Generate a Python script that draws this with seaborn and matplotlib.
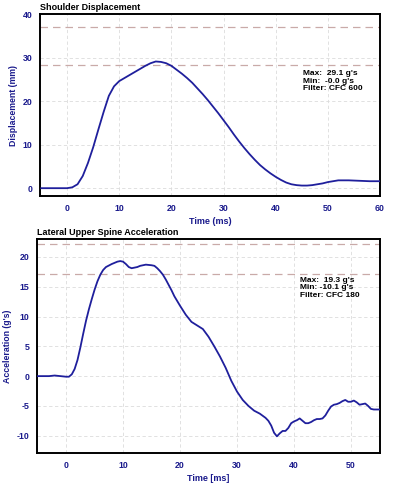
import seaborn as sns
import matplotlib.pyplot as plt
import pandas as pd
from matplotlib.ticker import MultipleLocator

# Shoulder displacement (mm) vs time (ms)
disp_time = [-5, -2, 0, 1, 2, 3, 4, 5, 6, 7, 8, 9, 10, 11, 12, 13, 14, 15, 16, 17, 18, 19,
             20, 21, 22, 23, 24, 25, 26, 27, 28, 29, 30, 31, 32, 33, 34, 35, 36, 37, 38, 39,
             40, 41, 42, 43, 44, 45, 46, 47, 48, 49, 50, 51, 52, 54, 56, 58, 60]
disp_vals = [0, 0, 0, 0.2, 0.9, 2.8, 5.8, 9.4, 13.5, 17.5, 21.2, 23.4, 24.6, 25.3, 26.0, 26.7,
             27.4, 28.1, 28.7, 29.1, 29.0, 28.7, 28.1, 27.2, 26.3, 25.3, 24.2, 22.9, 21.6, 20.2,
             18.7, 17.2, 15.6, 14.0, 12.3, 10.7, 9.2, 7.8, 6.5, 5.3, 4.3, 3.4, 2.6, 1.9, 1.3,
             0.9, 0.7, 0.6, 0.6, 0.7, 0.9, 1.1, 1.4, 1.6, 1.8, 1.8, 1.7, 1.6, 1.6]
disp_refs = [28.3, 37.0]
disp_note = "Max:  29.1 g's\nMin:  -0.0 g's\nFilter: CFC 600"

# Lateral upper spine acceleration (g's) vs time (ms)
acc_time = [-5, -3, -2, -1, 0, 0.5, 1, 1.5, 2, 2.5, 3, 3.5, 4, 4.5, 5, 5.5, 6, 6.5, 7, 8, 9,
            9.5, 10, 10.5, 11, 11.5, 12, 12.5, 13, 14, 15, 15.5, 16, 16.5, 17, 17.5, 18, 18.5,
            19, 20, 21, 22, 23, 24, 25, 26, 27, 28, 29, 30, 31, 32, 33, 34, 35, 35.5, 36, 36.5,
            37, 37.5, 38, 38.5, 39, 39.5, 40, 40.5, 41, 41.5, 42, 42.5, 43, 43.5, 44, 44.5, 45,
            45.5, 46, 46.5, 47, 47.5, 48, 48.5, 49, 49.5, 50, 50.5, 51, 51.5, 52, 52.5, 53,
            53.5, 54, 54.5, 55]
acc_vals = [0, 0, 0.1, 0, -0.1, -0.1, 0.3, 1.2, 2.7, 4.8, 7.1, 9.3, 11.2, 12.9, 14.5, 15.9, 17.0,
            17.8, 18.3, 18.8, 19.2, 19.3, 19.2, 18.8, 18.3, 18.1, 18.2, 18.3, 18.5, 18.7, 18.6,
            18.5, 18.1, 17.6, 17.0, 16.2, 15.3, 14.4, 13.4, 11.8, 10.3, 9.1, 8.5, 7.9, 6.6, 5.0,
            3.3, 1.4, -0.8, -2.6, -4.0, -5.0, -5.8, -6.3, -7.0, -7.5, -8.3, -9.5, -10.1, -9.6,
            -9.2, -9.2, -8.7, -7.9, -7.6, -7.4, -7.1, -7.5, -7.9, -7.9, -7.7, -7.4, -7.2, -7.2,
            -7.1, -6.6, -5.8, -5.1, -4.8, -4.7, -4.5, -4.2, -4.0, -4.3, -4.3, -4.1, -4.4, -4.8,
            -4.7, -4.6, -5.0, -5.5, -5.6, -5.6, -5.6]
acc_refs = [17.1, 22.2]
acc_note = "Max:  19.3 g's\nMin: -10.1 g's\nFilter: CFC 180"

sns.set_style("white")
plt.rcParams['font.family'] = ['Liberation Sans', 'DejaVu Sans']
plt.rcParams['axes.unicode_minus'] = False

navy = "#1f1f9c"
label_blue = "#1a1a8c"

fig = plt.figure(figsize=(3.94, 4.87), dpi=100)
ax1 = fig.add_axes([0.1015, 0.5975, 0.863, 0.3737])
ax2 = fig.add_axes([0.094, 0.0698, 0.8706, 0.4394])


def style_panel(ax, df, title, xlabel, ylabel, xlim, ylim, ymajor, yminor, refs, note, note_xy):
    sns.lineplot(data=df, x="t", y="v", ax=ax, color=navy, linewidth=1.3, zorder=3)
    for r in refs:
        ax.axhline(r, color="#c9aaa8", linestyle=(0, (6, 4)), linewidth=0.9, zorder=2)
    ax.set_xlim(*xlim)
    ax.set_ylim(*ylim)
    ax.xaxis.set_major_locator(MultipleLocator(10))
    ax.xaxis.set_minor_locator(MultipleLocator(2))
    ax.yaxis.set_major_locator(MultipleLocator(ymajor))
    ax.yaxis.set_minor_locator(MultipleLocator(yminor))
    ax.grid(True, which="major", color="#dcdcdc", linestyle=(0, (4, 3)), linewidth=0.6)
    ax.set_axisbelow(True)
    ax.tick_params(which="major", direction="inout", length=5, width=1.0,
                   labelsize=6.3, labelcolor=label_blue, pad=3)
    ax.tick_params(which="minor", direction="inout", length=3, width=0.8)
    for lab in ax.get_xticklabels() + ax.get_yticklabels():
        lab.set_fontweight("bold")
    for sp in ax.spines.values():
        sp.set_color("black")
        sp.set_linewidth(1.4)
    ax.set_title(title, loc="left", fontsize=6.5, fontweight="bold", color="black", pad=3)
    ax.set_xlabel(xlabel, fontsize=6.5, fontweight="bold", color=label_blue, labelpad=3)
    ax.set_ylabel(ylabel, fontsize=6.3, fontweight="bold", color=label_blue, labelpad=3)
    ax.text(note_xy[0], note_xy[1], note, transform=ax.transAxes, fontsize=6,
            fontweight="bold", va="top", ha="left", linespacing=1.05, color="black")


disp_df = pd.DataFrame({"t": disp_time, "v": disp_vals})
acc_df = pd.DataFrame({"t": acc_time, "v": acc_vals})

style_panel(ax1, disp_df, "Shoulder Displacement", "Time (ms)", "Displacement (mm)",
            (-5.2, 60), (-1.8, 40), 10, 5, disp_refs, disp_note, (0.774, 0.69))
style_panel(ax2, acc_df, "Lateral Upper Spine Acceleration", "Time [ms]", "Acceleration (g's)",
            (-5.1, 55.1), (-12.9, 23), 5, 2.5, acc_refs, acc_note, (0.767, 0.822))

fig.savefig("out.png", dpi=100)
